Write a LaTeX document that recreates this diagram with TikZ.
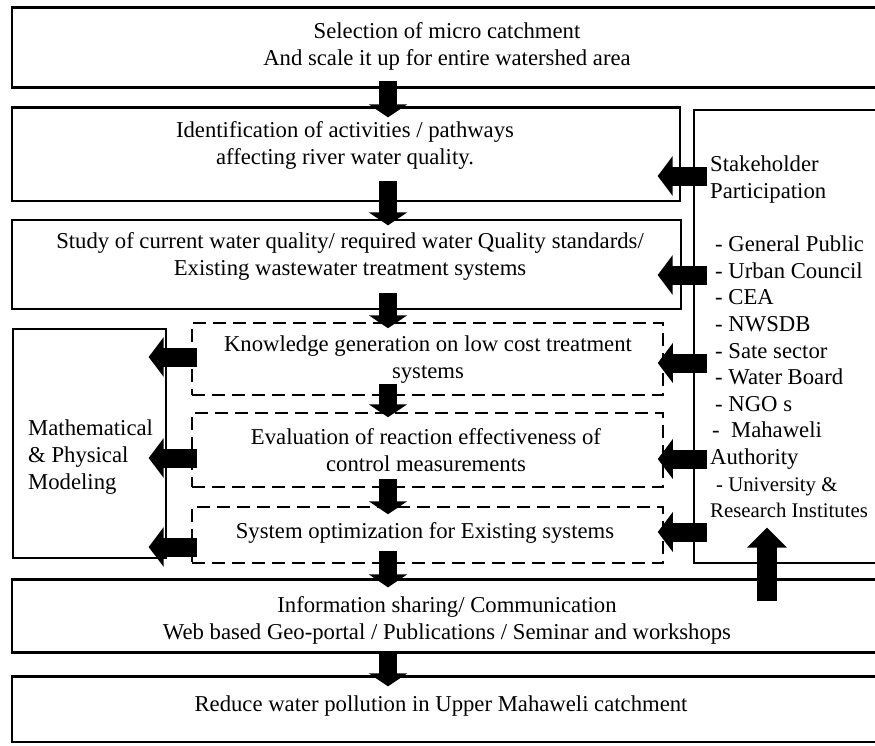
\documentclass[tikz,border=0pt]{standalone}
\usepackage{fontspec}
\setmainfont{Liberation Serif}
\usetikzlibrary{arrows.meta,calc}
\newcommand{\boxfont}{\fontsize{22.7}{27}\selectfont}
\newcommand{\listfont}{\fontsize{22.7}{26.6}\selectfont}
\newcommand{\smallfont}{\fontsize{20.8}{26.6}\selectfont}
\tikzset{
  box/.style={draw, line width=1.3pt, inner sep=0pt},
  dbox/.style={draw, line width=1.5pt, dash pattern=on 13pt off 7pt, inner sep=0pt},
  heavy/.style={line width=3pt},
  txt/.style={font=\boxfont, align=center, inner sep=0pt},
  downarr/.style={line width=18pt, -{Triangle[width=38pt,length=13pt]}},
  leftarr/.style={line width=19pt, -{Triangle[width=39pt,length=15pt]}},
  uparr/.style={line width=20pt, -{Triangle[width=39pt,length=20pt]}},
}

\begin{document}
\begin{tikzpicture}[x=1pt,y=-1pt]
  \useasboundingbox (0,0) rectangle (875,745);
  \clip (0,0) rectangle (875,745);
  \fill[white] (0,0) rectangle (875,745);

  % main column
  \node[box, minimum width=878pt, minimum height=79pt] (b1) at (451,47.5) {};
  \node[box, minimum width=668pt, minimum height=93pt] (b2) at (346,154.5) {};
  \node[box, minimum width=669pt, minimum height=89pt] (b3) at (346.5,264.5) {};
  \node[box, minimum width=878pt, minimum height=72pt] (b5) at (451,616) {};
  \node[box, minimum width=878pt, minimum height=65pt] (b6) at (451,709.5) {};
  \draw[heavy] (b1.north west) -- (b1.north east) (b1.south west) -- (b1.south east)
    (b2.north west) -- (b2.north east) (b5.north west) -- (b5.north east)
    (b5.south west) -- (b5.south east) (b6.north west) -- (b6.north east);

  % side boxes
  \node[box, minimum width=153pt, minimum height=229pt] (mm) at (89.5,443.5) {};
  \node[box, minimum width=196pt, minimum height=453pt] (sh) at (792,336.5) {};

  % dashed boxes
  \node[dbox, minimum width=471pt, minimum height=72pt] (d1) at (427.5,359) {};
  \node[dbox, minimum width=471pt, minimum height=74pt] (d2) at (427.5,450) {};
  \node[dbox, minimum width=471pt, minimum height=56pt] (d3) at (427.5,535) {};

  % texts
  \node[txt] (t1) at (447,46) {Selection of micro catchment\\And scale it up for entire watershed area};
  \node[txt] (t2) at (345,145) {Identification of activities / pathways\\affecting river water quality.};
  \node[txt] (t3) at (350,256) {Study of current water quality/ required water Quality standards/\\Existing wastewater treatment systems};
  \node[txt] (td1) at (428,360) {Knowledge generation on low cost treatment\\systems};
  \node[txt] (td2) at (426,450) {Evaluation of reaction effectiveness of\\control measurements};
  \node[txt] (td3) at (425,533) {System optimization for Existing systems};
  \node[txt] (t5) at (447,620) {Information sharing/ Communication\\Web based Geo-portal / Publications / Seminar and workshops};
  \node[txt] (t6) at (441,706) {Reduce water pollution in Upper Mahaweli catchment};
  \node[txt, align=left, anchor=west] (mmt) at (28,457) {Mathematical\\\& Physical\\Modeling};
  \node[font=\listfont, align=left, anchor=north west, inner sep=0pt] (sht) at (710,156) {Stakeholder\\Participation\\[26.6pt]
    \hspace*{5pt}- General Public\\
    \hspace*{5pt}- Urban Council\\
    \hspace*{5pt}- CEA\\
    \hspace*{5pt}- NWSDB\\
    \hspace*{5pt}- Sate sector\\
    \hspace*{5pt}- Water Board\\
    \hspace*{5pt}- NGO s\\
    \hspace*{2pt}-\ \ Mahaweli\\
    Authority\\
    {\smallfont\hspace*{6pt}- University \&}\\
    {\smallfont Research Institutes}};

  % flow arrows
  \coordinate (ax) at (388,0);
  \foreach \a/\b/\u/\d in {b1/b2/7/10, b2/b3/21/6, b3/d1/17/6, d1/d2/12/5, d2/d3/9/8, d3/b5/13/8, b5/b6/0/10}
    \draw[downarr] ($(\a.south -| ax)+(0,-\u)$) -- ($(\b.north -| ax)+(0,\d)$);

  % to modeling
  \foreach \s/\dy in {d1/-2, d2/8, d3/12}
    \draw[leftarr] ($(\s.west)+(6,\dy)$) -- ($(mm.east |- \s.west)+(-18,\dy)$);

  % stakeholder input
  \foreach \t/\dy/\dx in {b2/21.5/23, b3/10.5/24, d1/4/6, d2/9/6, d3/-3/6}
    \draw[leftarr] ($(sh.west |- \t.east)+(14,\dy)$) -- ($(\t.east)+(-\dx,\dy)$);

  \coordinate (ux) at (767,0);
  \draw[uparr] ($(b5.north -| ux)+(0,22)$) -- ($(sh.south -| ux)+(0,-36)$);
\end{tikzpicture}
\end{document}
